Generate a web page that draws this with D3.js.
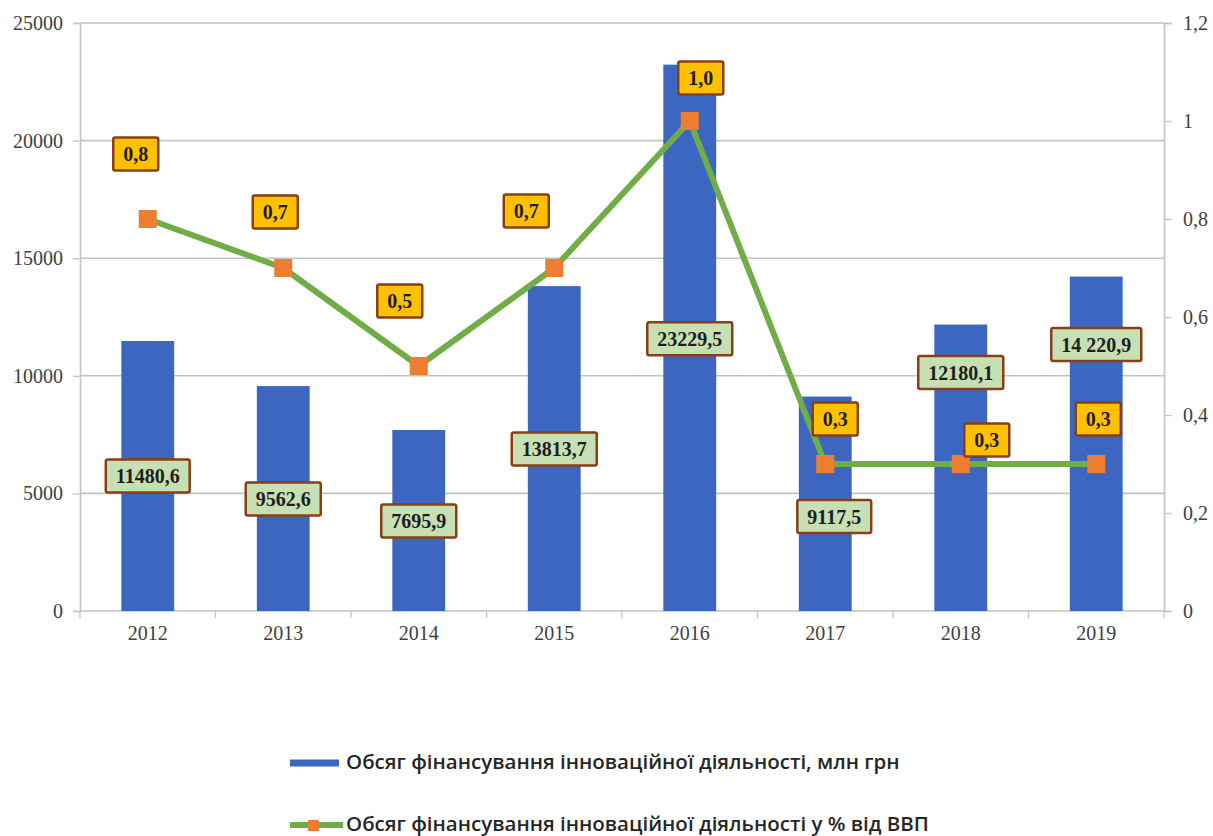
<!DOCTYPE html>
<html>
<head>
<meta charset="utf-8">
<script src="https://cdn.jsdelivr.net/npm/d3@7"></script>
<style>
  body { margin: 0; background: #fff; }
  svg { display: block; }
</style>
</head>
<body>
<svg width="1213" height="836"></svg>
<script>
// data
const years = ["2012", "2013", "2014", "2015", "2016", "2017", "2018", "2019"];
const funding = [11480.6, 9562.6, 7695.9, 13813.7, 23229.5, 9117.5, 12180.1, 14220.9];
const fundingLabels = ["11480,6", "9562,6", "7695,9", "13813,7", "23229,5", "9117,5", "12180,1", "14 220,9"];
const shareGdp = [0.8, 0.7, 0.5, 0.7, 1.0, 0.3, 0.3, 0.3];
const leftTicks = [0, 5000, 10000, 15000, 20000, 25000];
const rightTicks = [0, 0.2, 0.4, 0.6, 0.8, 1, 1.2];
const legendNames = [
    "Обсяг фінансування інноваційної діяльності, млн грн",
    "Обсяг фінансування інноваційної діяльності у % від ВВП"
];

// label placement (pixel offsets from the mark)
const barLabelOffset = [[0, 135], [0, 113], [0, 91], [0, 163], [0, 274], [9, 120], [0, 48], [0, 68]];
const lineLabelOffset = [[-12, -65], [-8, -56], [-19, -65], [-28, -57], [11, -43], [10, -45], [26, -24], [2, -45]];

const plotLeft = 80, plotRight = 1164, plotTop = 23, plotBottom = 611;
const gridColor = "#c3c3c3";
const barColor = "#3c66c0", lineColor = "#70ad47", markerColor = "#ed7d31";
const axisFont = "'Liberation Serif', 'Times New Roman', serif";

const svg = d3.select("svg");

const x = d3.scaleBand().domain(years).range([plotLeft, plotRight]).padding(0);
const yL = d3.scaleLinear().domain([0, 25000]).range([plotBottom, plotTop]);
const yR = d3.scaleLinear().domain([0, 1.2]).range([plotBottom, plotTop]);

// gridlines
svg.append("g").selectAll("line")
    .data(leftTicks.filter(d => d > 0))
    .enter().append("line")
    .attr("x1", plotLeft).attr("x2", plotRight)
    .attr("y1", d => yL(d)).attr("y2", d => yL(d))
    .attr("stroke", gridColor).attr("stroke-width", 1.6);

// left axis
const gL = svg.append("g").attr("transform", `translate(${plotLeft},0)`)
    .call(d3.axisLeft(yL).tickValues(leftTicks).tickSize(7).tickPadding(10).tickFormat(d3.format("d")));
// right axis
const gR = svg.append("g").attr("transform", `translate(${plotRight},0)`)
    .call(d3.axisRight(yR).tickValues(rightTicks).tickSize(8).tickPadding(11)
        .tickFormat(d => d3.format(".1~f")(d).replace(".", ",")));
// bottom axis
const gB = svg.append("g").attr("transform", `translate(0,${plotBottom})`)
    .call(d3.axisBottom(x).tickSize(0).tickPadding(15));

[gL, gR, gB].forEach(g => {
    g.select(".domain").attr("stroke", gridColor).attr("stroke-width", 1.6);
    g.selectAll(".tick line").attr("stroke", gridColor).attr("stroke-width", 1.3);
    g.selectAll("text").attr("font-family", axisFont).attr("font-size", 20).attr("fill", "#404040");
});
gB.select(".domain").attr("d", `M${plotLeft},0H${plotRight}`);

// category boundary ticks on x axis
const bounds = years.map(d => x(d)).concat([plotRight]);
gB.append("g").selectAll("line")
    .data(bounds)
    .enter().append("line")
    .attr("x1", d => d).attr("x2", d => d)
    .attr("y1", 0).attr("y2", 7)
    .attr("stroke", gridColor).attr("stroke-width", 1.3);

// bars
const barW = x.bandwidth() * 0.39;
svg.append("g").selectAll("rect")
    .data(funding)
    .enter().append("rect")
    .attr("x", (d, i) => x(years[i]) + x.bandwidth() / 2 - barW / 2)
    .attr("y", d => yL(d))
    .attr("width", barW)
    .attr("height", d => plotBottom - yL(d))
    .attr("fill", barColor);

// line
const cx = i => x(years[i]) + x.bandwidth() / 2;
svg.append("path")
    .datum(shareGdp)
    .attr("fill", "none")
    .attr("stroke", lineColor)
    .attr("stroke-width", 6)
    .attr("stroke-linejoin", "round")
    .attr("d", d3.line().x((d, i) => cx(i)).y(d => yR(d)));

const mk = 18;
svg.append("g").selectAll("rect")
    .data(shareGdp)
    .enter().append("rect")
    .attr("x", (d, i) => cx(i) - mk / 2)
    .attr("y", d => yR(d) - mk / 2)
    .attr("width", mk).attr("height", mk)
    .attr("fill", markerColor);

// boxed data labels
function boxLabel(g, px, py, txt, fill) {
    const t = g.append("text")
        .attr("x", px).attr("y", py)
        .attr("text-anchor", "middle")
        .attr("dominant-baseline", "central")
        .attr("font-family", axisFont)
        .attr("font-weight", "bold")
        .attr("font-size", 20)
        .attr("fill", "#1e1e1e")
        .text(txt);
    const w = t.node().getComputedTextLength() + 20;
    const h = 33;
    g.insert("rect", "text")
        .attr("x", px - w / 2).attr("y", py - h / 2)
        .attr("width", w).attr("height", h)
        .attr("rx", 2)
        .attr("fill", fill)
        .attr("stroke", "#8a3f12")
        .attr("stroke-width", 2.5);
}

funding.forEach((d, i) => {
    const g = svg.append("g");
    boxLabel(g, cx(i) + barLabelOffset[i][0], yL(d) + barLabelOffset[i][1], fundingLabels[i], "#c6e0b4");
});
shareGdp.forEach((d, i) => {
    const g = svg.append("g");
    boxLabel(g, cx(i) + lineLabelOffset[i][0], yR(d) + lineLabelOffset[i][1],
        d3.format(".1f")(d).replace(".", ","), "#ffc000");
});

// legend
const legendFont = "'Open Sans', 'Noto Sans', sans-serif";
const lg = svg.append("g");
lg.append("line")
    .attr("x1", 290).attr("x2", 339).attr("y1", 763).attr("y2", 763)
    .attr("stroke", barColor).attr("stroke-width", 7);
lg.append("line")
    .attr("x1", 290).attr("x2", 343).attr("y1", 825).attr("y2", 825)
    .attr("stroke", lineColor).attr("stroke-width", 6);
lg.append("rect")
    .attr("x", 308).attr("y", 820).attr("width", 11).attr("height", 11)
    .attr("fill", markerColor);
const legendY = [769, 831];
legendNames.forEach((name, i) => {
    lg.append("text")
        .attr("x", 346).attr("y", legendY[i])
        .attr("font-family", legendFont)
        .attr("font-weight", 600)
        .attr("font-size", 20.5)
        .attr("fill", "#262626")
        .text(name);
});
</script>
</body>
</html>
